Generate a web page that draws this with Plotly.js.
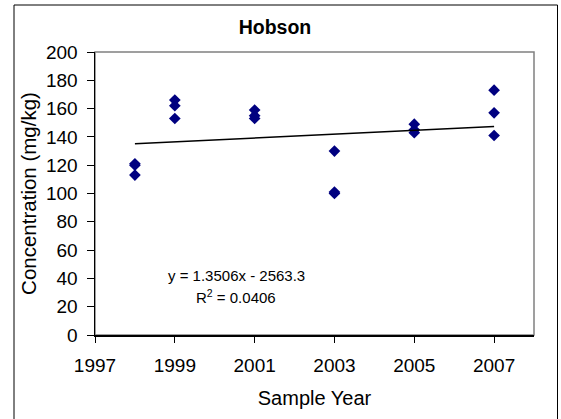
<!DOCTYPE html>
<html>
<head>
<meta charset="utf-8">
<script src="https://cdn.plot.ly/plotly-3.0.1.min.js"></script>
<style>
html,body{margin:0;padding:0;background:#fff;}
#chart{width:561px;height:419px;}
</style>
</head>
<body>
<div id="chart"></div>
<script>
// Data
var sampleYears = [1998,1998,1998, 1999,1999,1999, 2001,2001,2001, 2003,2003,2003, 2005,2005,2005, 2007,2007,2007];
var concentrations = [121,120,113, 166,162,153, 159,155,153, 130,101,100, 149,145,143, 173,157,141];
var trendSlope = 1.3506;
var trendIntercept = -2563.3;
var trendRSquared = "0.0406";
var trendYears = [1998, 2007];
var xTickVals = [1997,1999,2001,2003,2005,2007];
var yTickVals = [0,20,40,60,80,100,120,140,160,180,200];

var trendValues = trendYears.map(function(x){ return trendSlope * x + trendIntercept; });

var font = "Arial, 'Liberation Sans', sans-serif";

var traces = [
  {
    x: sampleYears, y: concentrations, type: 'scatter', mode: 'markers',
    marker: {symbol: 'diamond', size: 9, color: '#000080'},
    showlegend: false, cliponaxis: false
  },
  {
    x: trendYears, y: trendValues, type: 'scatter', mode: 'lines',
    line: {color: '#000000', width: 1.5},
    showlegend: false
  }
];

var layout = {
  width: 561, height: 419,
  margin: {l: 95, r: 27, t: 52, b: 84},
  paper_bgcolor: '#ffffff', plot_bgcolor: '#ffffff',
  font: {family: font, color: '#000', size: 19},
  title: {text: '<b>Hobson</b>', font: {family: font, size: 19.5, color: '#000'},
          x: 275/561, xanchor: 'center', y: 1 - 27/419, yanchor: 'middle'},
  xaxis: {
    range: [1997, 2008], tickvals: xTickVals, ticktext: xTickVals.map(String),
    showgrid: false, zeroline: false, showline: true, linecolor: '#000', linewidth: 1.5,
    ticks: 'outside', ticklen: 6, tickcolor: '#000', ticklabelstandoff: 7,
    tickfont: {family: font, size: 19, color: '#000'},
    title: {text: 'Sample Year', font: {family: font, size: 20, color: '#000'}, standoff: 15}
  },
  yaxis: {
    range: [0, 200], tickvals: yTickVals,
    showgrid: false, zeroline: false, showline: true, linecolor: '#000', linewidth: 1.5,
    ticks: 'outside', ticklen: 7, tickcolor: '#000', ticklabelstandoff: 5,
    tickfont: {family: font, size: 19, color: '#000'},
    title: {text: 'Concentration (mg/kg)', font: {family: font, size: 20.5, color: '#000'}, standoff: 4}
  },
  shapes: [
    {type: 'rect', xref: 'paper', yref: 'paper', x0: 0, x1: 1, y0: 0, y1: 1,
     line: {color: '#808080', width: 1.5}, layer: 'below'},
    {type: 'rect', xref: 'paper', yref: 'paper',
     x0: (14-95)/439, x1: (557.5-95)/439, y0: (335-430)/283, y1: (335-5)/283,
     line: {color: '#000', width: 1}, layer: 'below'}
  ],
  annotations: [
    {xref: 'paper', yref: 'paper', x: (236-95)/439, y: (335-275)/283,
     text: 'y = 1.3506x - 2563.3', showarrow: false, xanchor: 'center', yanchor: 'middle',
     font: {family: font, size: 15, color: '#000'}},
    {xref: 'paper', yref: 'paper', x: (236-95)/439, y: (335-296)/283,
     text: 'R<sup>2</sup> = ' + trendRSquared, showarrow: false, xanchor: 'center', yanchor: 'middle',
     font: {family: font, size: 15, color: '#000'}}
  ]
};

Plotly.newPlot('chart', traces, layout, {displayModeBar: false, staticPlot: true});
</script>
</body>
</html>
